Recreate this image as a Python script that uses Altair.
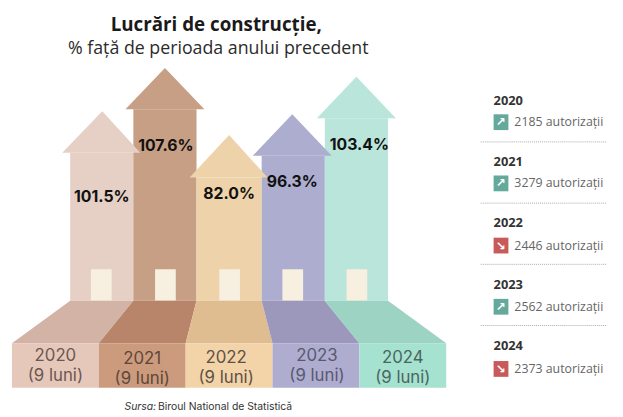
import altair as alt
import pandas as pd

# chart values
years = ["2020", "2021", "2022", "2023", "2024"]
percents = ["101.5%", "107.6%", "82.0%", "96.3%", "103.4%"]
permits = [2185, 3279, 2446, 2562, 2373]
trend = ["up", "up", "down", "up", "down"]

# house drawing (reference pixel space)
body_left = [71, 135, 199, 265, 329]
body_right = [135, 199, 265, 329, 393]
apex_x = [103.5, 167, 232, 296, 361]
apex_y = [110, 66, 134, 113, 75]
head_base = [152, 108, 177, 155, 117]
head_left = [63, 127, 192, 256, 321]
head_right = [142, 207, 271, 336, 401]
door_left = [92, 157, 222, 286, 351]
door_right = [113, 178, 243, 307, 372]
front_left = [12, 100, 188, 276, 364]
front_right = [100, 188, 276, 364, 452]
pct_x = [103, 168, 232, 296, 364]
pct_y = [197, 145, 194, 182, 144]
year_x = [56, 144, 229, 321, 408]
year_y = [358, 361, 360, 358, 360]
row_year_y = [100, 161, 223, 286, 348]
row_y = [121, 183, 246, 308, 371]
rule_y = [141, 203, 265, 327]

col_arrow = ["#e6cfc4", "#c79f85", "#eed3aa", "#adadcf", "#b9e5da"]
col_trap = ["#d3b3a6", "#b8846a", "#dfbd90", "#9b98bc", "#9cd3c2"]
col_front = ["#e6c8bb", "#cc9b7d", "#f3d3a8", "#aeadd0", "#a6e2d0"]
col_year = ["#6b5750", "#5e473a", "#5f5146", "#5a5870", "#4a6660"]

X = alt.Scale(domain=[8, 623], range=[0, 615])
Y = alt.Scale(domain=[8, 417], range=[0, 409])
FONT = "Open Sans"


def xe(f="x"):
    return alt.X(f"{f}:Q", scale=X, axis=None)


def ye(f="y"):
    return alt.Y(f"{f}:Q", scale=Y, axis=None)


def cscale(rng):
    return alt.Color("year:N", scale=alt.Scale(domain=years, range=rng), legend=None)


base = pd.DataFrame({
    "year": years, "bl": body_left, "br": body_right, "base": head_base,
    "dl": door_left, "dr": door_right, "fl": front_left, "fr": front_right,
    "px": pct_x, "py": pct_y, "pct": percents, "yx": year_x, "yy": year_y,
    "ly": [v + 20.5 for v in year_y], "ycol": col_year,
    "ry": row_year_y, "iy": row_y, "permits": permits, "trend": trend,
})
base["txt"] = base["permits"].astype(str) + " autorizații"
base["glyph"] = base["trend"].map({"up": "↗", "down": "↘"})

layers = []
# bodies
layers.append(alt.Chart(base).mark_rect().encode(
    x=xe("bl"), x2="br:Q", y=alt.Y("base:Q", scale=Y, axis=None),
    y2=alt.datum(302), color=cscale(col_arrow)))

# roofs
for i in [1, 4, 3, 0, 2]:
    roof = pd.DataFrame({
        "y": [apex_y[i], head_base[i]],
        "x": [apex_x[i], head_left[i]],
        "x2": [apex_x[i], head_right[i]],
    })
    layers.append(alt.Chart(roof).mark_area(orient="horizontal", color=col_arrow[i]).encode(
        y=ye(), x=xe(), x2="x2:Q"))

# doors
layers.append(alt.Chart(base).mark_rect(color="#f7efdf").encode(
    x=xe("dl"), x2="dr:Q", y=alt.datum(270, scale=Y, axis=None), y2=alt.datum(302)))

# ground trapezoids
for i in range(5):
    trap = pd.DataFrame({
        "y": [302, 345],
        "x": [body_left[i], front_left[i]],
        "x2": [body_right[i], front_right[i]],
    })
    layers.append(alt.Chart(trap).mark_area(orient="horizontal", color=col_trap[i]).encode(
        y=ye(), x=xe(), x2="x2:Q"))

# front strip
layers.append(alt.Chart(base).mark_rect().encode(
    x=xe("fl"), x2="fr:Q", y=alt.datum(345, scale=Y, axis=None), y2=alt.datum(390),
    color=cscale(col_front)))

# percent labels
layers.append(alt.Chart(base).mark_text(
    font="Inter", fontWeight=700, fontSize=16, color="#111111").encode(
    x=xe("px"), y=ye("py"), text="pct:N"))

# year labels
layers.append(alt.Chart(base).mark_text(font="Inter", fontSize=17, fontWeight=400).encode(
    x=xe("yx"), y=ye("yy"), text="year:N", color=alt.Color("ycol:N", scale=None)))
layers.append(alt.Chart(base.assign(lun="(9 luni)")).mark_text(font="Inter", fontSize=17, fontWeight=400).encode(
    x=xe("yx"), y=ye("ly"), text="lun:N", color=alt.Color("ycol:N", scale=None)))

# titles and source
texts = pd.DataFrame({"x": [219, 221], "y": [23, 47],
                      "t": ["Lucrări de construcție,", "% față de perioada anului precedent"]})
layers.append(alt.Chart(texts.iloc[[0]]).mark_text(
    font=FONT, fontWeight=700, fontSize=19, color="#1a1a1a").encode(x=xe(), y=ye(), text="t:N"))
layers.append(alt.Chart(texts.iloc[[1]]).mark_text(
    font=FONT, fontSize=18, color="#2b2b2b").encode(x=xe(), y=ye(), text="t:N"))
src = pd.DataFrame({"x": [158, 160], "y": [410, 410], "t": ["Sursa:", "Biroul National de Statistică"]})
layers.append(alt.Chart(src.iloc[[0]]).mark_text(
    font="Inter", fontStyle="italic", fontSize=10.5, align="right", color="#333333").encode(
    x=xe(), y=ye(), text="t:N"))
layers.append(alt.Chart(src.iloc[[1]]).mark_text(
    font="Inter", fontSize=10.5, align="left", color="#333333").encode(
    x=xe(), y=ye(), text="t:N"))

# right panel
layers.append(alt.Chart(base).mark_text(
    font=FONT, fontWeight=700, fontSize=13, align="left", color="#333333").encode(
    x=alt.datum(500, scale=X, axis=None), y=ye("ry"), text="year:N"))
icons = base.assign(y0=base["iy"] - 8, y1=base["iy"] + 8)
layers.append(alt.Chart(icons).mark_rect().encode(
    x=alt.datum(500, scale=X, axis=None), x2=alt.datum(515),
    y=ye("y0"), y2="y1:Q",
    color=alt.Color("trend:N", scale=alt.Scale(domain=["up", "down"], range=["#65a99c", "#c85a5a"]), legend=None)))
layers.append(alt.Chart(base).mark_text(
    font="DejaVu Sans", fontWeight=700, fontSize=12, color="white").encode(
    x=alt.datum(507.5, scale=X, axis=None), y=ye("iy"), text="glyph:N"))
layers.append(alt.Chart(base).mark_text(
    font=FONT, fontSize=12.5, align="left", color="#666666").encode(
    x=alt.datum(521, scale=X, axis=None), y=ye("iy"), text="txt:N"))
layers.append(alt.Chart(pd.DataFrame({"y": rule_y})).mark_rule(
    color="#aaaaaa", strokeDash=[1, 1], strokeWidth=1).encode(
    x=alt.datum(487, scale=X, axis=None), x2=alt.datum(615), y=ye()))

chart = alt.layer(*layers).resolve_scale(color="independent").properties(
    width=615, height=409, padding=0,
    autosize=alt.AutoSizeParams(type="none"),
).configure_view(stroke=None).configure(background="white") if False else alt.layer(*layers).resolve_scale(color="independent").properties(
    width=615, height=409, padding=0,
    autosize=alt.AutoSizeParams(type="none"),
).configure_view(stroke=None)

chart.save("out.html", embed_options={"renderer": "svg", "actions": False})
